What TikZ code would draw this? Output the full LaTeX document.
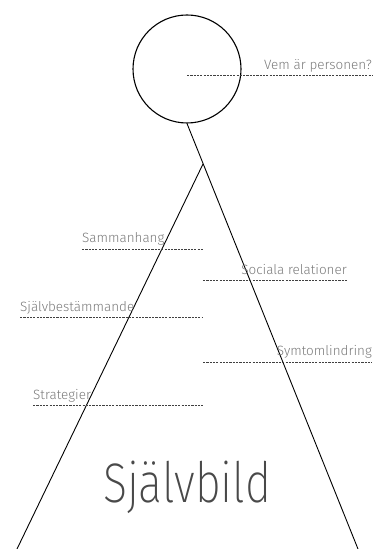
\documentclass[tikz,border=0pt]{standalone}
\usepackage{fontspec}
\setmainfont{Fira Sans}[UprightFont=* Light]
\newfontfamily\tunn{Fira Sans}[UprightFont=* ExtraLight]
\usepackage{tikz}
\usepackage{xcolor}

\definecolor{textgra}{HTML}{7A7A7A}
\definecolor{streckgra}{HTML}{404040}

\tikzset{
  streck/.style={streckgra, line width=1bp, dash pattern=on 2.2bp off 1.1bp},
  etikett/.style={textgra, font=\fontsize{13.5}{15}\selectfont, inner sep=0pt},
  sida/.style={black, line width=0.9bp}
}

\begin{document}
\begin{tikzpicture}[x=1bp, y=-1bp]
  \useasboundingbox (0,0) rectangle (373,549);
  % Huvud
  \node[draw, circle, line width=1.1bp, minimum size=108bp, inner sep=0pt] (huvud) at (187,69) {};
  % Triangel
  \coordinate (topp) at (203,164);
  \coordinate (vhorn) at (17,549);
  \coordinate (hhorn) at (358,549);
  \draw[sida] (huvud.south) -- (hhorn);
  \draw[sida] (topp) -- (vhorn);
  % Streck och etiketter
  \coordinate (vem-a) at (187,76);
  \coordinate (vem-b) at (372,76);
  \draw[streck] (vem-a) -- (vem-b);
  \node[etikett, anchor=base east] (vem) at (372,70) {Vem är personen?};
  \coordinate (sam-a) at (82,249);
  \coordinate (sam-b) at (203,249);
  \draw[streck] (sam-a) -- (sam-b);
  \node[etikett, anchor=base west] (sam) at (82,242) {Sammanhang};
  \coordinate (soc-a) at (203,280);
  \coordinate (soc-b) at (348,280);
  \draw[streck] (soc-a) -- (soc-b);
  \node[etikett, anchor=base east] (soc) at (347,274) {Sociala relationer};
  \coordinate (sjb-a) at (20,317);
  \coordinate (sjb-b) at (203,317);
  \draw[streck] (sjb-a) -- (sjb-b);
  \node[etikett, anchor=base west] (sjb) at (20,311) {Självbestämmande};
  \coordinate (sym-a) at (203,362);
  \coordinate (sym-b) at (372,362);
  \draw[streck] (sym-a) -- (sym-b);
  \node[etikett, anchor=base east] (sym) at (372,355) {Symtomlindring};
  \coordinate (str-a) at (33,405);
  \coordinate (str-b) at (203,405);
  \draw[streck] (str-a) -- (str-b);
  \node[etikett, anchor=base west] (str) at (33,399) {Strategier};
  % Rubrik
  \node[textgra!60!black, font=\tunn\fontsize{56}{60}\selectfont, anchor=base, inner sep=0pt, xscale=0.8] (bild) at (187,502) {Självbild};
\end{tikzpicture}
\end{document}
